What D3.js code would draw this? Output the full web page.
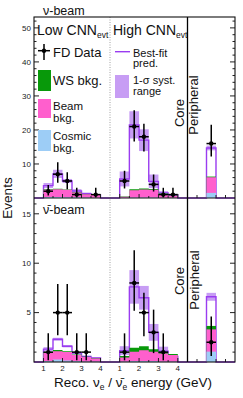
<!DOCTYPE html>
<html><head><meta charset="utf-8">
<script src="https://cdn.jsdelivr.net/npm/d3@7"></script>
<style>html,body{margin:0;padding:0;background:#fff;}svg{display:block;font-family:"Liberation Sans",Arial,sans-serif;}</style>
</head><body><svg id="c" width="243" height="398"></svg>
<script>
// ---------- data ----------
const binEdges = [1, 1.5, 2, 2.5, 3, 3.5, 4];
const periphBin = [0.4, 0.6];
const xTickValues = [1, 2, 3, 4];
const yTicksTop = [10, 20, 30, 40, 50];
const yTicksBot = [5, 10, 15];

// neutrino beam, low CNN
const nuLowData = [2, 7, 5, 1, 0, 1];
const nuLowErrLo = [0.7, 4.5, 2.6, 0.17, 0, 0.17];
const nuLowErrHi = [3.8, 10.5, 7.6, 3.0, 0, 3.0];
const nuLowPred = [3.65, 7.1, 5.0, 2.05, 1.3, 0.9];
const nuLowSyst = [0.75, 1.2, 0.6, 0.55, 0.3, 0.2];
const nuLowCosmic = [0.3, 0.3, 0.25, 0.2, 0.15, 0.1];
const nuLowBeam = [2.1, 2.3, 2.15, 1.4, 0.95, 0.8];
const nuLowWS = [0.15, 0.15, 0.12, 0.1, 0.05, 0.05];
// neutrino beam, high CNN
const nuHighData = [5, 21, 18, 4, 1, 1];
const nuHighErrLo = [2.8, 16.6, 13.7, 1.9, 0.17, 0.17];
const nuHighErrHi = [8.0, 25.8, 21.8, 6.9, 3.0, 3.0];
const nuHighPred = [5.6, 21.5, 17.0, 4.9, 1.5, 0.9];
const nuHighSyst = [2.2, 4.0, 3.2, 2.0, 0.5, 0.3];
const nuHighCosmic = [0.1, 0.15, 0.15, 0.15, 0.1, 0.05];
const nuHighBeam = [0.3, 2.15, 2.35, 2.25, 1.1, 0.55];
const nuHighWS = [0.05, 0.3, 0.3, 0.25, 0.1, 0.05];
// neutrino beam, peripheral
const nuPerData = [16];
const nuPerErrLo = [12.2];
const nuPerErrHi = [21.5];
const nuPerPred = [14.7];
const nuPerSyst = [0.7];
const nuPerCosmic = [1.5];
const nuPerBeam = [4.6];
const nuPerWS = [0.2];

// antineutrino beam, low CNN
const nubarLowData = [1, 5, 5, 1, 1, 0];
const nubarLowErrLo = [0.17, 2.7, 2.7, 0.17, 0.17, 0];
const nubarLowErrHi = [2.9, 7.9, 7.9, 2.9, 2.9, 0];
const nubarLowPred = [1.3, 2.3, 1.6, 0.9, 0.55, 0.4];
const nubarLowSyst = [0.2, 0.15, 0.12, 0.1, 0.07, 0.05];
const nubarLowCosmic = [0.1, 0.25, 0.15, 0.1, 0.05, 0.05];
const nubarLowBeam = [0.8, 0.85, 0.85, 0.6, 0.45, 0.3];
const nubarLowWS = [0.12, 0.12, 0.08, 0.05, 0.03, 0.02];
// antineutrino beam, high CNN
const nubarHighData = [1, 8, 5, 3, 1, 0];
const nubarHighErrLo = [0.17, 5.2, 2.6, 0.9, 0.17, 0];
const nubarHighErrHi = [2.9, 11.3, 7.0, 5.3, 2.9, 0];
const nubarHighPred = [1.15, 7.6, 6.5, 3.0, 1.1, 0.55];
const nubarHighSyst = [0.45, 1.7, 1.2, 0.85, 0.45, 0.15];
const nubarHighCosmic = [0.05, 0.1, 0.1, 0.1, 0.05, 0.05];
const nubarHighBeam = [0.4, 0.95, 1.1, 0.95, 0.8, 0.65];
const nubarHighWS = [0.15, 0.4, 0.4, 0.25, 0.15, 0.1];
// antineutrino beam, peripheral
const nubarPerData = [2];
const nubarPerErrLo = [0.6];
const nubarPerErrHi = [4.6];
const nubarPerPred = [6.6];
const nubarPerSyst = [0.4];
const nubarPerCosmic = [1.05];
const nubarPerBeam = [2.25];
const nubarPerWS = [0.35];

// ---------- style ----------
const C = {green: "#08990a", pink: "#ff5fcd", blue: "#9dcdf6", band: "#c79df4", line: "#9a3cf0", ink: "#111"};

// ---------- layout ----------
const svg = d3.select("#c");
const L = 34, R = 235;
const topY = [17, 198], botY = [198, 362];
const xLow = d3.scaleLinear([0.5, 4.5], [L, 110]);
const xHigh = d3.scaleLinear([0.5, 4.5], [110, 187.5]);
const xPer = d3.scaleLinear([0, 1], [187.5, R]);
const yTop = d3.scaleLinear([0, 53.2], [topY[1], topY[0]]);
const yBot = d3.scaleLinear([0, 16.6], [botY[1], botY[0]]);

function drawHist(x, y, edges, dom, d) {
  const g = svg.append("g");
  const n = d.pred.length;
  for (let i = 0; i < n; i++) {
    g.append("rect").attr("x", x(edges[i])).attr("width", x(edges[i+1]) - x(edges[i]))
      .attr("y", y(d.pred[i] + d.syst[i])).attr("height", y(d.pred[i] - d.syst[i]) - y(d.pred[i] + d.syst[i]))
      .attr("fill", C.band);
  }
  const pts = [[dom[0], 0]];
  for (let i = 0; i < n; i++) pts.push([edges[i], d.pred[i]]);
  pts.push([edges[n], 0]); pts.push([dom[1], 0]);
  g.append("path").attr("d", d3.line().x(p => x(p[0])).y(p => y(p[1])).curve(d3.curveStepAfter)(pts))
    .attr("fill", "none").attr("stroke", C.line).attr("stroke-width", 1.4);
  const stackPts = vals => { const a = vals.map((v, i) => [edges[i], v]); a.push([edges[n], vals[n-1]]); return a; };
  const area = d3.area().x(p => x(p[0])).y0(y(0)).y1(p => y(p[1])).curve(d3.curveStepAfter);
  const cb = d.cosmic.map((c, i) => c + d.beam[i]);
  const cbw = cb.map((v, i) => v + d.ws[i]);
  g.append("path").attr("d", area(stackPts(cbw))).attr("fill", C.green);
  g.append("path").attr("d", area(stackPts(cb))).attr("fill", C.pink);
  g.append("path").attr("d", area(stackPts(d.cosmic))).attr("fill", C.blue);
  for (let i = 0; i < n; i++) {
    if (d.data[i] <= 0) continue;
    const cx = x((edges[i] + edges[i+1]) / 2), cy = y(d.data[i]);
    g.append("line").attr("x1", cx).attr("x2", cx).attr("y1", y(d.errLo[i])).attr("y2", y(d.errHi[i]))
      .attr("stroke", "#000").attr("stroke-width", 1.5);
    g.append("line").attr("x1", x(edges[i])).attr("x2", x(edges[i+1])).attr("y1", cy).attr("y2", cy)
      .attr("stroke", "#000").attr("stroke-width", 1.5);
    g.append("circle").attr("cx", cx).attr("cy", cy).attr("r", 2.2).attr("fill", "#000");
  }
}

const pack = (data, errLo, errHi, pred, syst, cosmic, beam, ws) => ({data, errLo, errHi, pred, syst, cosmic, beam, ws});
drawHist(xLow, yTop, binEdges, xLow.domain(), pack(nuLowData, nuLowErrLo, nuLowErrHi, nuLowPred, nuLowSyst, nuLowCosmic, nuLowBeam, nuLowWS));
drawHist(xHigh, yTop, binEdges, xHigh.domain(), pack(nuHighData, nuHighErrLo, nuHighErrHi, nuHighPred, nuHighSyst, nuHighCosmic, nuHighBeam, nuHighWS));
drawHist(xPer, yTop, periphBin, xPer.domain(), pack(nuPerData, nuPerErrLo, nuPerErrHi, nuPerPred, nuPerSyst, nuPerCosmic, nuPerBeam, nuPerWS));
drawHist(xLow, yBot, binEdges, xLow.domain(), pack(nubarLowData, nubarLowErrLo, nubarLowErrHi, nubarLowPred, nubarLowSyst, nubarLowCosmic, nubarLowBeam, nubarLowWS));
drawHist(xHigh, yBot, binEdges, xHigh.domain(), pack(nubarHighData, nubarHighErrLo, nubarHighErrHi, nubarHighPred, nubarHighSyst, nubarHighCosmic, nubarHighBeam, nubarHighWS));
drawHist(xPer, yBot, periphBin, xPer.domain(), pack(nubarPerData, nubarPerErrLo, nubarPerErrHi, nubarPerPred, nubarPerSyst, nubarPerCosmic, nubarPerBeam, nubarPerWS));

// ---------- separators ----------
svg.append("line").attr("x1", xLow(4.5)).attr("x2", xLow(4.5)).attr("y1", topY[0]).attr("y2", botY[1])
  .attr("stroke", "#888").attr("stroke-width", 0.8).attr("stroke-dasharray", "1,1.5");
svg.append("line").attr("x1", xPer(0)).attr("x2", xPer(0)).attr("y1", topY[0]).attr("y2", botY[1])
  .attr("stroke", "#000").attr("stroke-width", 1.3);

// ---------- axes ----------
const ax = svg.append("g").attr("stroke", "#222").attr("stroke-width", 1);
function yAxes(y, major, minorStep, maxV, labels) {
  const minors = d3.range(minorStep, maxV, minorStep).filter(v => !major.some(m => Math.abs(m - v) < 1e-6));
  major.forEach(v => {
    ax.append("line").attr("x1", L).attr("x2", L + 5).attr("y1", y(v)).attr("y2", y(v));
    ax.append("line").attr("x1", R).attr("x2", R - 5).attr("y1", y(v)).attr("y2", y(v));
  });
  minors.forEach(v => {
    ax.append("line").attr("x1", L).attr("x2", L + 2.5).attr("y1", y(v)).attr("y2", y(v));
    ax.append("line").attr("x1", R).attr("x2", R - 2.5).attr("y1", y(v)).attr("y2", y(v));
  });
  labels.forEach(v => svg.append("text").attr("x", L - 3).attr("y", y(v)).attr("dy", "0.35em")
    .attr("text-anchor", "end").attr("font-size", 8).attr("fill", "#222").text(v));
}
yAxes(yTop, yTicksTop, 2, 53, yTicksTop);
yAxes(yBot, yTicksBot, 1, 16.5, yTicksBot);

function xTicksAt(yPix, withLabels) {
  [xLow, xHigh].forEach(x => {
    xTickValues.forEach(v => {
      ax.append("line").attr("x1", x(v)).attr("x2", x(v)).attr("y1", yPix).attr("y2", yPix - 4);
      if (withLabels) svg.append("text").attr("x", x(v)).attr("y", yPix + 9).attr("text-anchor", "middle")
        .attr("font-size", 8).attr("fill", "#222").text(v);
    });
    [1.5, 2.5, 3.5].forEach(v => ax.append("line").attr("x1", x(v)).attr("x2", x(v)).attr("y1", yPix).attr("y2", yPix - 2));
  });
  [0.2, 0.6, 0.8].forEach(v => ax.append("line").attr("x1", xPer(v)).attr("x2", xPer(v)).attr("y1", yPix).attr("y2", yPix - 3));
}
xTicksAt(topY[1], false);
xTicksAt(botY[1], true);

svg.append("rect").attr("x", L).attr("y", topY[0]).attr("width", R - L).attr("height", botY[1] - topY[0])
  .attr("fill", "none").attr("stroke", "#111").attr("stroke-width", 1.1);
svg.append("line").attr("x1", L).attr("x2", R).attr("y1", topY[1]).attr("y2", topY[1]).attr("stroke", "#111").attr("stroke-width", 1.1);

// ---------- texts ----------
const txt = (x, y, s, size, anchor) => svg.append("text").attr("x", x).attr("y", y).attr("font-size", size)
  .attr("text-anchor", anchor || "start").attr("fill", C.ink).text(s);
txt(43, 15, "ν-beam", 12.5);
txt(43, 214, "ν\u0304-beam", 12.5);

const low = txt(37, 35, "Low CNN", 14);
low.append("tspan").attr("font-size", 8.5).attr("dy", 3).text("evt");
const high = txt(113, 35, "High CNN", 14);
high.append("tspan").attr("font-size", 8.5).attr("dy", 3).text("evt");

// legend left
svg.append("line").attr("x1", 44).attr("x2", 44).attr("y1", 44).attr("y2", 60).attr("stroke", "#000").attr("stroke-width", 1.5);
svg.append("line").attr("x1", 38).attr("x2", 50).attr("y1", 50.7).attr("y2", 50.7).attr("stroke", "#000").attr("stroke-width", 1.5);
svg.append("circle").attr("cx", 44).attr("cy", 50.7).attr("r", 2.2).attr("fill", "#000");
txt(53, 57, "FD Data", 13);
svg.append("rect").attr("x", 38).attr("y", 70).attr("width", 13).attr("height", 21).attr("fill", C.green);
txt(53, 85, "WS bkg.", 13);
svg.append("rect").attr("x", 38).attr("y", 99).attr("width", 13).attr("height", 19).attr("fill", C.pink);
txt(53, 110, "Beam", 11.5);
txt(53, 122, "bkg.", 11.5);
svg.append("rect").attr("x", 38).attr("y", 130).attr("width", 13).attr("height", 21).attr("fill", C.blue);
txt(53, 140, "Cosmic", 11.5);
txt(53, 152, "bkg.", 11.5);

// legend right
svg.append("line").attr("x1", 115).attr("x2", 130).attr("y1", 51.7).attr("y2", 51.7).attr("stroke", C.line).attr("stroke-width", 1.4);
txt(133, 56.5, "Best-fit", 11);
txt(133, 67, "pred.", 11);
svg.append("rect").attr("x", 115).attr("y", 75).attr("width", 14).attr("height", 23).attr("fill", C.band);
txt(133, 83.5, "1-σ syst.", 11);
txt(133, 95, "range", 11);

const rot = (x, y, s, size) => svg.append("text").attr("transform", `translate(${x},${y}) rotate(-90)`)
  .attr("font-size", size).attr("text-anchor", "middle").attr("fill", C.ink).text(s);
rot(184, 113, "Core", 13);
rot(197.5, 105, "Peripheral", 13);
rot(183.5, 281, "Core", 13);
rot(198.5, 280, "Peripheral", 13);
rot(12, 198, "Events", 13.5);

const xl = txt(133, 387, "Reco. ν", 13.5, "middle");
xl.append("tspan").attr("font-size", 8.5).attr("dy", 3).text("e");
xl.append("tspan").attr("dy", -3).text(" / ν\u0304");
xl.append("tspan").attr("font-size", 8.5).attr("dy", 3).text("e");
xl.append("tspan").attr("dy", -3).text(" energy (GeV)");
</script></body></html>
